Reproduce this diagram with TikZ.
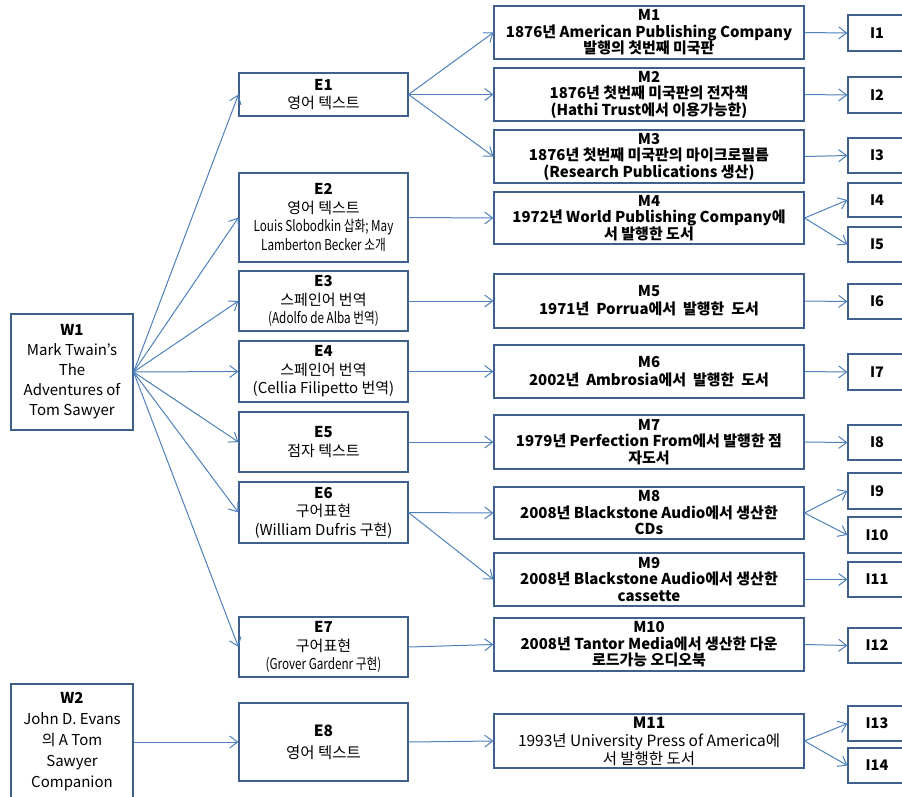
\documentclass[tikz,border=0pt]{standalone}
\usepackage{fontspec}
\setmainfont{Noto Sans CJK KR}
\usetikzlibrary{arrows.meta}
\definecolor{boxline}{HTML}{3F5F8C}
\definecolor{linkblue}{HTML}{4F81BD}
\newcommand{\narrowtxt}[2][0.78]{\scalebox{#1}[1]{#2}}
\tikzset{
  box/.style={draw=boxline, line width=1.1pt, align=center, inner sep=0pt, fill=white},
  wbox/.style={box, minimum width=122pt, minimum height=116pt, font=\fontsize{15}{20}\selectfont},
  ebox/.style={box, minimum width=169pt, font=\fontsize{15}{18.5}\selectfont},
  mbox/.style={box, minimum width=310pt, minimum height=53pt, font=\bfseries\fontsize{15}{16.5}\selectfont},
  ibox/.style={box, minimum width=58pt, minimum height=35pt, font=\bfseries\fontsize{14.5}{16}\selectfont},
}
\begin{document}
\begin{tikzpicture}[x=1pt,y=-1pt,->,>={Straight Barb[length=8pt,width=12pt]},
  every edge/.append style={draw=linkblue, line width=1pt}]
\clip (0,0) rectangle (902,796);
\fill[white] (0,0) rectangle (902,796);
% works
\node[wbox] (w1) at (72,372) {\textbf{W1}\\Mark Twain's\\The\\Adventures of\\Tom Sawyer};
\node[wbox, font=\fontsize{15}{21}\selectfont] (w2) at (72,742) {\textbf{W2}\\John D. Evans\\의 A Tom\\Sawyer\\Companion};
% expressions
\node[ebox, minimum height=43pt] (e1) at (323.5,94.5) {\textbf{E1}\\영어 텍스트};
\node[ebox, minimum height=89pt] (e2) at (323.5,217.5) {\textbf{E2}\\영어 텍스트\\\narrowtxt{Louis Slobodkin 삽화; May}\\\narrowtxt{Lamberton Becker 소개}};
\node[ebox, minimum height=60pt] (e3) at (323.5,301) {\textbf{E3}\\스페인어 번역\\\narrowtxt{(Adolfo de Alba 번역)}};
\node[ebox, minimum height=61pt] (e4) at (323.5,371.5) {\textbf{E4}\\스페인어 번역\\(Cellia Filipetto 번역)};
\node[ebox, minimum height=60pt] (e5) at (323.5,442) {\textbf{E5}\\점자 텍스트};
\node[ebox, minimum height=61pt] (e6) at (323.5,512.5) {\textbf{E6}\\구어표현\\(William Dufris 구현)};
\node[ebox, minimum height=60pt] (e7) at (323.5,647) {\textbf{E7}\\구어표현\\\narrowtxt{(Grover Gardenr 구현)}};
\node[ebox, minimum height=78pt, font=\fontsize{15.5}{22}\selectfont] (e8) at (323.5,742) {\textbf{E8}\\영어 텍스트};
% manifestations
\node[mbox] (m1) at (649,32.5) {M1\\1876년 American Publishing Company\\발행의 첫번째 미국판};
\node[mbox] (m2) at (649,94.5) {M2\\1876년 첫번째 미국판의 전자책\\(Hathi Trust에서 이용가능한)};
\node[mbox] (m3) at (649,156.5) {M3\\1876년 첫번째 미국판의 마이크로필름\\(Research Publications 생산)};
\node[mbox, minimum height=52pt] (m4) at (649,218) {M4\\1972년 World Publishing Company에\\서 발행한 도서};
\node[mbox, minimum height=54pt, font=\bfseries\fontsize{15}{18}\selectfont] (m5) at (649,301) {M5\\1971년~ Porrua에서~ 발행한~ 도서};
\node[mbox, font=\bfseries\fontsize{15}{18}\selectfont] (m6) at (649,371.5) {M6\\2002년~ Ambrosia에서~ 발행한~ 도서};
\node[mbox, minimum height=54pt] (m7) at (649,442) {M7\\1979년 Perfection From에서 발행한 점\\자도서};
\node[mbox, minimum height=52pt] (m8) at (649,513) {M8\\2008년 Blackstone Audio에서 생산한\\CDs};
\node[mbox] (m9) at (649,579.5) {M9\\2008년 Blackstone Audio에서 생산한\\cassette};
\node[mbox] (m10) at (649,644.5) {M10\\2008년 Tantor Media에서 생산한 다운\\로드가능 오디오북};
\node[mbox, minimum height=54pt, font=\fontsize{15.5}{18}\selectfont] (m11) at (649,741) {\textbf{M11}\\1993년 University Press of America에\\서 발행한 도서};
% items
\node[ibox, minimum height=36pt] (i1) at (877,33) {I1};
\node[ibox, minimum height=36pt] (i2) at (877,95) {I2};
\node[ibox] (i3) at (877,155.5) {I3};
\node[ibox, minimum height=34pt] (i4) at (877,200) {I4};
\node[ibox] (i5) at (877,244.5) {I5};
\node[ibox] (i6) at (877,301.5) {I6};
\node[ibox, minimum height=36pt] (i7) at (877,372) {I7};
\node[ibox] (i8) at (877,442.5) {I8};
\node[ibox, minimum height=36pt] (i9) at (877,491) {I9};
\node[ibox, minimum height=36pt] (i10) at (877,535) {I10};
\node[ibox] (i11) at (877,579.5) {I11};
\node[ibox] (i12) at (877,645.5) {I12};
\node[ibox] (i13) at (877,723.5) {I13};
\node[ibox] (i14) at (877,765.5) {I14};
% links
\path (w1.east) edge (e1.west) edge (e2.west) edge (e3.west) edge (e4.west)
      edge (e5.west) edge (e6.west) edge (e7.west);
\path (w2.east) edge (e8.west);
\path (e1.east) edge (m1.west) edge (m2.west) edge (m3.west);
\path (e2.east) edge (m4.west)
      (e3.east) edge (m5.west)
      (e4.east) edge (m6.west)
      (e5.east) edge (m7.west)
      (e6.east) edge (m8.west) edge (m9.west)
      (e7.east) edge (m10.west)
      (e8.east) edge (m11.west);
\path (m1.east) edge (i1.west)
      (m2.east) edge (i2.west)
      (m3.east) edge (i3.west)
      (m4.east) edge (i4.west) edge (i5.west)
      (m5.east) edge (i6.west)
      (m6.east) edge (i7.west)
      (m7.east) edge (i8.west)
      (m8.east) edge (i9.west) edge (i10.west)
      (m9.east) edge (i11.west)
      (m10.east) edge (i12.west)
      (m11.east) edge (i13.west) edge (i14.west);
\end{tikzpicture}
\end{document}
